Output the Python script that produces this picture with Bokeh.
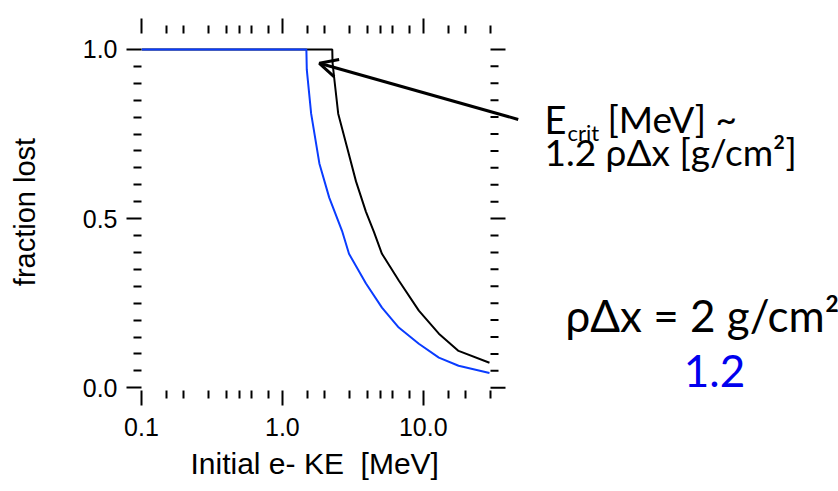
from bokeh.plotting import figure
from bokeh.models import (LogAxis, FixedTicker, Range1d, Label, Title,
                          Arrow, OpenHead, NumeralTickFormatter,
                          CustomLabelingPolicy)
from bokeh.embed import file_html
from bokeh.resources import INLINE

# ---- data ----
energy_black = [0.1, 2.26, 2.27, 2.33, 2.49, 2.88, 3.33, 3.92, 4.47, 5.09, 6.7, 9.3, 12.9, 17.8, 29.5]
frac_black = [1.0, 1.0, 0.96, 0.917, 0.81, 0.71, 0.61, 0.52, 0.46, 0.396, 0.317, 0.228, 0.16, 0.109, 0.074]

energy_blue = [0.1, 1.48, 1.49, 1.60, 1.83, 2.15, 2.65, 2.97, 3.92, 5.09, 6.7, 9.3, 12.9, 17.8, 29.5]
frac_blue = [1.0, 1.0, 0.94, 0.81, 0.663, 0.562, 0.464, 0.396, 0.308, 0.237, 0.178, 0.130, 0.089, 0.065, 0.044]

x_major_ticks = [0.1, 1.0, 10.0]
x_minor_ticks = [0.15, 0.2, 0.3, 0.4, 0.5, 0.6, 0.8,
                 1.5, 2, 3, 4, 5, 6, 8,
                 15, 20, 30]
y_major_ticks = [0.0, 0.5, 1.0]
y_minor_ticks = [0.05, 0.1, 0.15, 0.2, 0.25, 0.3, 0.35, 0.4, 0.45,
                 0.55, 0.6, 0.65, 0.7, 0.75, 0.8, 0.85, 0.9, 0.95]

x_label = "Initial e- KE\u00a0 [MeV]"
y_label = "fraction lost"

# ---- geometry ----
W, H = 838, 491
FL, FT, FB = 141, 33, 390          # frame left / top / bottom (canvas px)
AX_RIGHT_PX = 490                  # where the plotted x axis ends
X_MIN, X_MAX = 0.1, 30.0
Y_MIN, Y_MAX = -0.008, 1.047
# the frame is widened to the canvas edge so the slide notes are not clipped;
# the right axis is drawn at X_MAX
x_end = X_MIN * (X_MAX / X_MIN) ** ((W - FL) / (AX_RIGHT_PX - FL))

p = figure(width=W, height=H, x_axis_type="log", title=None,
           x_range=Range1d(X_MIN, x_end), y_range=Range1d(Y_MIN, Y_MAX),
           output_backend="svg", toolbar_location=None,
           min_border_left=FL, min_border_right=0,
           min_border_top=FT, min_border_bottom=H - FB)
p.outline_line_color = None
p.xgrid.visible = False
p.ygrid.visible = False
p.background_fill_color = "white"
p.border_fill_color = "white"

AXIS_FONT = "Liberation Sans"
NO_LABELS = CustomLabelingPolicy(code="""
for (const i of Array.from(indices)) { indices.unset(i) }
return indices
""")

def style_axis(ax, ticks, minor, show_labels):
    ax.ticker = FixedTicker(ticks=ticks, minor_ticks=minor)
    ax.axis_line_color = None
    ax.major_tick_line_color = "black"
    ax.minor_tick_line_color = "black"
    ax.major_tick_line_width = 2
    ax.minor_tick_line_width = 2
    ax.major_tick_in = 0
    ax.major_tick_out = 15
    ax.minor_tick_in = 0
    ax.minor_tick_out = 8
    ax.formatter = NumeralTickFormatter(format="0.0")
    ax.major_label_text_font = AXIS_FONT
    ax.major_label_text_color = "black"
    if show_labels:
        ax.major_label_text_font_size = "25px"
    else:
        ax.major_label_text_font_size = "0px"
        ax.major_label_policy = NO_LABELS
        ax.major_label_standoff = 0

# bottom
xb = p.xaxis[0]
style_axis(xb, x_major_ticks, x_minor_ticks, True)
xb.major_label_standoff = 12

# x axis title, placed under the drawn part of the axis
p.add_layout(Title(text=x_label, align="left", offset=49,
                   text_font=AXIS_FONT, text_font_size="30px",
                   text_font_style="normal", text_color="black",
                   standoff=12), "below")

# left
yl = p.yaxis[0]
style_axis(yl, y_major_ticks, y_minor_ticks, True)
yl.major_label_standoff = 9
yl.axis_label = y_label
yl.axis_label_text_font = AXIS_FONT
yl.axis_label_text_font_size = "29px"
yl.axis_label_text_font_style = "normal"
yl.axis_label_text_color = "black"
yl.axis_label_standoff = 39

# top (ticks only)
xt = LogAxis()
style_axis(xt, x_major_ticks, x_minor_ticks, False)
p.add_layout(xt, "above")

# right axis ticks at X_MAX
p.ray(x=[X_MAX] * len(y_major_ticks), y=y_major_ticks, length=15,
      length_units="screen", angle=0, line_color="black", line_width=2)
p.ray(x=[X_MAX] * len(y_minor_ticks), y=y_minor_ticks, length=8,
      length_units="screen", angle=0, line_color="black", line_width=2)

# ---- curves ----
p.line(energy_black, frac_black, line_color="black", line_width=2)
p.line(energy_blue, frac_blue, line_color="#0a3cff", line_width=2)

# ---- arrow annotation ----
p.add_layout(Arrow(end=OpenHead(size=18, line_width=3, line_color="black"),
                   x_start=47.2, y_start=0.793, x_end=1.83, y_end=0.959,
                   line_width=3, line_color="black"))

# ---- slide text ----
TXT_FONT = "Lato"

def add_text(text, cx, cy, size, color="black", align="left"):
    p.add_layout(Label(x=cx - FL, y=FB - cy, x_units="screen", y_units="screen",
                       text=text, text_font=TXT_FONT, text_font_size=size,
                       text_color=color, text_align=align,
                       text_baseline="alphabetic"))

add_text("E", 544, 118, "38px")
add_text("crit", 567, 132, "22px")
add_text("[MeV] ~", 607, 118, "37px")
add_text("1.2 \u03c1\u0394x [g/cm\u00b2]", 544, 151, "37px")
add_text("\u03c1\u0394x = 2 g/cm\u00b2", 565, 314, "44px")
add_text("1.2", 714, 370, "44px", color="#0000ee", align="center")

open("out.html", "w").write(file_html(p, INLINE))
